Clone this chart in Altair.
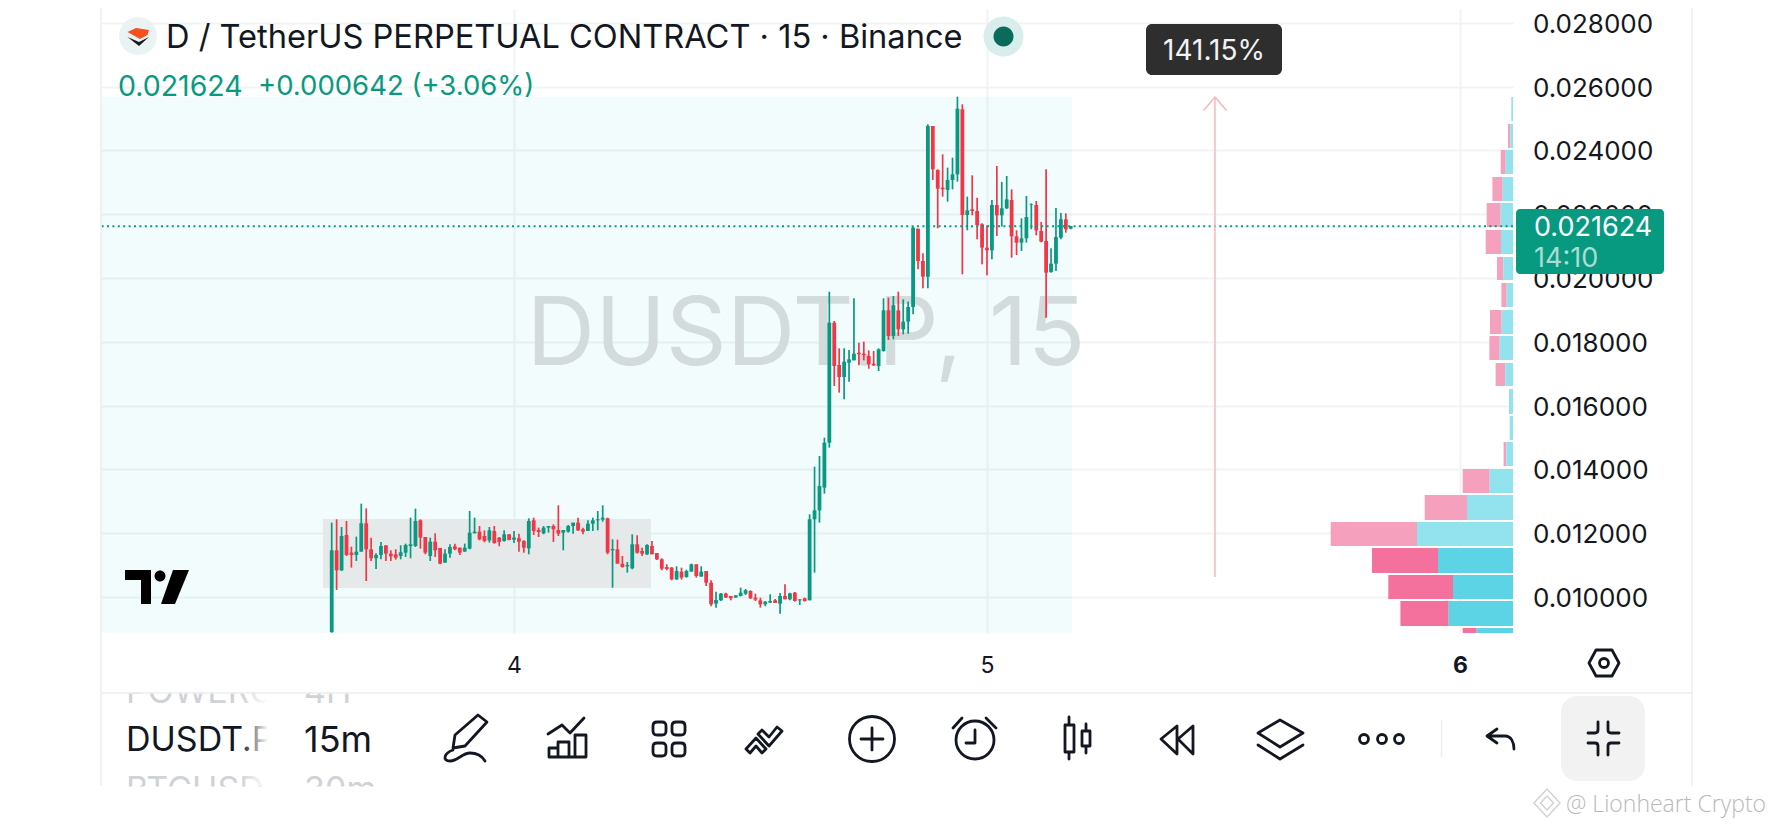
import altair as alt
import pandas as pd

FONT = "Inter"
INK = "#131722"
UP = "#089981"
DOWN = "#F23645"

# candles, prices in millionths, one every 15 minutes
OPEN = [8900,11463,10836,11944,11390,11317,11422,12310,11495,11213,11317,11620,11359,11338,11286,11390,11599,11599,12404,11881,11286,11735,11537,11077,11359,11589,11547,11422,11516,11996,12049,11913,11777,12070,11861,11756,11965,11798,11840,11756,11526,12404,12101,11996,12174,12226,12101,12017,12049,12226,12331,12122,12070,12299,12404,12425,12467,11463,11495,11045,10962,10899,11652,11442,11338,11599,11380,11181,10941,10920,10554,10795,10627,10795,11025,10638,10815,10450,9791,9896,10105,10032,9980,10032,10105,10189,9980,9896,9771,9823,9896,9791,10032,9927,10136,9896,9958,9896,12435,12717,13428,14838,18600,17273,16897,17346,17419,17660,17628,17555,17315,17242,17712,18987,18182,18987,18391,18632,19092,21548,20534,20043,24766,23387,22833,22760,23073,23251,25289,21976,22154,22101,21684,20952,20868,22290,21966,22185,22446,21307,21109,21245,22290,22290,21475,21161,20189,20450,21266,21840,21548]
HIGH = [12331,12435,12195,12383,11578,11892,12926,12780,11861,11369,11725,11620,11463,11495,11620,11672,12487,12770,12435,11881,11861,11996,11537,11495,11652,11672,11547,11672,12697,12487,12226,12090,12195,12226,11881,12090,11965,12070,11986,11777,12467,12487,12174,12226,12226,12278,12874,12101,12258,12331,12487,12174,12404,12487,12697,12874,12487,11808,11798,11286,11098,11965,11934,11547,11652,11756,11380,11213,11025,10941,10962,10920,10857,11045,11025,10962,10815,10523,10168,10126,10136,10032,10053,10293,10251,10209,10105,9980,9875,10084,9938,10126,10398,10136,10157,9927,9980,12592,14086,14420,14995,19572,18653,17796,17796,17743,19363,17973,18005,17733,17712,17796,19363,19384,19436,19572,19332,19259,21600,21548,20774,24818,24766,23408,23878,23460,23773,25686,25445,22551,23220,22520,21715,21652,22446,23512,23011,23199,22781,21495,21872,22572,22342,22415,21757,23408,20931,22196,22039,22028,21631]
LOW = [8880,10220,10815,11286,10920,11129,11422,10502,11129,10878,11181,11129,11129,11171,11181,11254,11213,11568,11516,11338,11129,11254,11025,11077,11233,11463,11317,11422,11495,11996,11777,11714,11704,11672,11589,11735,11777,11693,11422,11390,11338,11944,11881,11965,12017,11725,11913,11463,12017,11986,12070,11965,12070,12070,12090,12362,11338,10293,11045,10920,10763,10868,11359,11286,11317,11338,11160,10836,10836,10523,10533,10544,10606,10795,10606,10638,10345,9708,9666,9875,9980,9896,9980,10021,10063,9938,9875,9666,9708,9812,9812,9478,9927,9896,9854,9750,9854,9896,10763,12331,13240,14681,16615,16406,16197,16751,17419,17263,17419,17158,17242,17085,17691,18057,18078,18182,18235,18255,18862,20273,19677,19677,23073,21558,22551,22394,22781,23021,20116,21495,21966,21213,20430,20085,20586,21318,21610,22164,20638,20722,20848,21109,21527,21339,21119,18757,20168,20220,21213,21422,21527]
CLOSE = [11463,10836,11913,11317,11317,11422,12310,11495,11213,11317,11599,11359,11275,11233,11401,11631,11652,12383,11861,11390,11735,11463,11045,11359,11568,11495,11390,11547,12017,12049,11808,11756,12090,11693,11725,11965,11787,11861,11735,11547,12383,12070,12038,12174,12226,12122,11986,12101,12226,12331,12090,12049,12299,12404,12435,12487,11390,11505,11045,10941,11004,11652,11390,11359,11631,11338,11181,10889,10878,10554,10815,10606,10815,11025,10659,10795,10450,9771,9906,10105,9980,9959,10053,10136,10209,9959,9917,9771,9854,9875,9812,10032,9927,10115,9875,9927,9875,12435,12717,13480,14838,18600,17242,16897,17378,17451,17628,17608,17587,17294,17263,17764,18987,18182,19144,18391,18632,19091,21579,20534,20043,24766,23408,22802,22781,23073,23251,25310,21976,22122,22101,21663,20952,20868,22290,21966,22185,22467,21307,21109,21245,21913,22310,21495,21140,20168,20450,21286,21840,21527,21624]

AXIS_PRICES = [0.010, 0.012, 0.014, 0.016, 0.018, 0.020, 0.022, 0.024, 0.026, 0.028]
AXIS_DAYS = [4, 5, 6]
LAST_PRICE = 0.021624

# volume profile: bin top, bin bottom (millionths), buy and sell volume
BIN_TOP = [25675,24829,24013,23167,22352,21505,20659,19844,18997,18182,17336,16521,15674,14859,14013,13198,12351,11536,10690,9875,9028]
BIN_BOT = [24923,24076,23261,22415,21600,20753,19938,19092,18245,17430,16615,15737,14922,14107,13260,12414,11599,10752,9937,9091,8871]
BUY = [1.7,2.7,7.3,10.3,12.3,12,9.7,6.3,11.3,13.3,7.7,4,3.3,6.7,23.3,46,96,75,60,64.3,36.3]
SELL = [0,2.3,5,10.3,14,15.3,6.3,5.3,11.7,10.3,9.7,0,0,2.7,27,42.3,86.3,66,64.7,48.3,14]
STRONG = [0]*17 + [1]*4

X_MIN, X_MAX = 3.1247, 6.1121
Y_MIN, Y_MAX = 0.008871, 0.028434
W, H = 1413, 624
X_S = alt.Scale(domain=[X_MIN, X_MAX], nice=False, zero=False)
Y_S = alt.Scale(domain=[Y_MIN, Y_MAX], nice=False, zero=False)
X0, Y0 = 100, 9
ONE = pd.DataFrame({"a": [0]})


def fx(v):
    return alt.value(v - X0)


def fy(v):
    return alt.value(v - Y0)


def text(s, x, y, size, color=INK, align="left", weight=400, font=FONT, **kw):
    return alt.Chart(ONE).mark_text(text=s, align=align, baseline="middle", fontSize=size,
                                    color=color, fontWeight=weight, font=font, **kw).encode(x=fx(x), y=fy(y + 3))


def box(x, x2, y, y2, color, radius=0, **kw):
    return alt.Chart(ONE).mark_rect(color=color, cornerRadius=radius, **kw).encode(
        x=fx(x), x2=fx(x2), y=fy(y), y2=fy(y2))


def line(x, x2, y, y2, color="#eeeeee", width=1.5):
    return alt.Chart(ONE).mark_rule(color=color, strokeWidth=width).encode(
        x=fx(x), x2=fx(x2), y=fy(y), y2=fy(y2))


def icon(path, x, y, color=INK, width=2.8, fill=None):
    if fill:
        m = alt.Chart(ONE).mark_point(shape=path, size=4, filled=True, fill=fill, strokeWidth=0, opacity=1)
    else:
        m = alt.Chart(ONE).mark_point(shape=path, size=4, filled=False, stroke=color, strokeWidth=width,
                                      opacity=1, strokeJoin="round", strokeCap="round")
    return m.encode(x=fx(x), y=fy(y))


def circ(r, cx=0, cy=0):
    return f"M{cx-r} {cy}A{r} {r} 0 1 0 {cx+r} {cy}A{r} {r} 0 1 0 {cx-r} {cy}Z"


def rrect(a, b, c, d, r):
    return (f"M{a+r} {c}L{b-r} {c}Q{b} {c} {b} {c+r}L{b} {d-r}Q{b} {d} {b-r} {d}"
            f"L{a+r} {d}Q{a} {d} {a} {d-r}L{a} {c+r}Q{a} {c} {a+r} {c}Z")


# ---- tables
idx = list(range(-37, 114))
candles = pd.DataFrame({
    "day": [4 + i / 96 for i in idx],
    "open": [v / 1e6 for v in OPEN], "close": [v / 1e6 for v in CLOSE],
    "high": [v / 1e6 for v in HIGH], "low": [v / 1e6 for v in LOW],
})
candles["col"] = [UP if c >= o else DOWN for o, c in zip(OPEN, CLOSE)]

k = (X_MAX - X_MIN) / W
prof = pd.DataFrame({
    "top": [v / 1e6 for v in BIN_TOP], "bot": [v / 1e6 for v in BIN_BOT],
    "right": [X_MAX] * len(BUY),
    "mid": [X_MAX - b * k for b in BUY],
    "left": [X_MAX - (b + s) * k for b, s in zip(BUY, SELL)],
    "buyc": ["#5DD4E5" if s else "#93E3EE" for s in STRONG],
    "sellc": ["#F3719C" if s else "#F5A0BC" for s in STRONG],
})

shade = pd.DataFrame({"d1": [X_MIN], "d2": [5.1797], "p1": [0.008871], "p2": [0.02568]})
range_box = pd.DataFrame({"d1": [3.5962], "d2": [4.2896], "p1": [0.010282], "p2": [0.012445]})
arrow = pd.DataFrame({"d1": [5.482], "p1": [0.010627], "p2": [0.025644]})

# ---- chart pieces
base_axes = alt.Chart(shade).mark_rect(color="#00bcd4", opacity=0.05).encode(
    x=alt.X("d1:Q", scale=X_S, title=None, axis=alt.Axis(
        values=AXIS_DAYS, format="d", domain=False, ticks=False, grid=True, gridColor="#f1f3f4", gridWidth=2,
        labelFont=FONT, labelFontSize=23, labelColor=INK, labelPadding=21, labelFlush=False,
        labelFontWeight={"condition": {"test": "datum.value === 6", "value": "bold"}, "value": "normal"})),
    x2="d2:Q",
    y=alt.Y("p1:Q", scale=Y_S, title=None, axis=alt.Axis(
        orient="right", values=AXIS_PRICES, format=".6f", domain=False, ticks=False, grid=True,
        gridColor="#f1f3f4", gridWidth=2, labelFont=FONT, labelFontSize=26, labelColor=INK,
        labelPadding=19.5, labelFlush=False, labelOffset=1.4)),
    y2="p2:Q",
)

watermark = text("DUSDT.P, 15", 806, 333, 95, color="#D3DBDD", align="center")
gray = alt.Chart(range_box).mark_rect(color="#E5E8E9", opacity=0.95).encode(
    x=alt.X("d1:Q", scale=X_S), x2="d2:Q", y=alt.Y("p1:Q", scale=Y_S), y2="p2:Q")

sell_bars = alt.Chart(prof).mark_rect().encode(
    x=alt.X("left:Q", scale=X_S), x2="mid:Q", y=alt.Y("bot:Q", scale=Y_S), y2="top:Q",
    color=alt.Color("sellc:N", scale=None))
buy_bars = alt.Chart(prof).mark_rect().encode(
    x=alt.X("mid:Q", scale=X_S), x2="right:Q", y=alt.Y("bot:Q", scale=Y_S), y2="top:Q",
    color=alt.Color("buyc:N", scale=None))

wicks = alt.Chart(candles).mark_rule(strokeWidth=1.7).encode(
    x=alt.X("day:Q", scale=X_S), y=alt.Y("low:Q", scale=Y_S), y2="high:Q",
    color=alt.Color("col:N", scale=None))
bodies = alt.Chart(candles).mark_rule(strokeWidth=3.8).encode(
    x=alt.X("day:Q", scale=X_S), y=alt.Y("open:Q", scale=Y_S), y2="close:Q",
    color=alt.Color("col:N", scale=None))

last_line = alt.Chart(pd.DataFrame({"p": [LAST_PRICE]})).mark_rule(
    color=UP, strokeWidth=2, strokeDash=[2, 3.4]).encode(y=alt.Y("p:Q", scale=Y_S))

arrow_shaft = alt.Chart(arrow).mark_rule(color="#F9B6BE", strokeWidth=1.5).encode(
    x=alt.X("d1:Q", scale=X_S), y=alt.Y("p1:Q", scale=Y_S), y2="p2:Q")
arrow_head = icon("M-11 13L0 0L11 13", 1215, 97, color="#F9B6BE", width=1.5)

layers = [
    base_axes, watermark, gray, sell_bars, buy_bars, wicks, bodies, last_line,
    arrow_shaft, arrow_head,
    # tooltip
    box(1146, 1282, 24, 75, "#2e2e2e", radius=6),
    text("141.15%", 1214, 49, 28, color="#f2f2f2", align="center"),
    # price label
    box(1516, 1664, 209, 274, UP, radius=4),
    text("0.021624", 1534, 225, 27, color="#ffffff"),
    text("14:10", 1534, 256, 27, color="#a9dcd2"),
    # legend
    icon(circ(19), 138, 36, fill="#EAF2F4"),
    icon("M-10.5 -4L-2 -8L11 -6L9.5 -1L2 3Z", 138, 36, fill="#F4511E"),
    icon("M-10.5 1L1 6L11 1L1 10Z", 138, 36, fill="#1a1a1a"),
    text("D / TetherUS PERPETUAL CONTRACT · 15 · Binance", 166, 35, 32.6),
    icon(circ(20), 1003.5, 36.5, fill="#D8EEEC"),
    icon(circ(10), 1003.5, 36.5, fill="#0B6B5A"),
    text("0.021624", 118, 84, 28.5, color=UP),
    text("+0.000642 (+3.06%)", 258, 84, 27.5, color=UP),
    # TradingView mark
    icon("M-32 -17L-6 -17L-6 17L-16 17L-16 -7L-32 -7Z", 157, 587, fill="#000000"),
    icon(circ(5.5, 3, -11), 157, 587, fill="#000000"),
    icon("M16 -17L32 -17L18 17L4 17Z", 157, 587, fill="#000000"),
    # settings hexagon
    icon("M-15 0L-8 -13L8 -13L15 0L8 13L-8 13Z", 1604, 663),
    icon(circ(4.5), 1604, 663),
    # frame and toolbar
    line(101, 101, 0, 786),
    line(1692, 1692, 0, 786),
    text("POWERC", 126, 690, 34, color="#cfd2d6"),
    text("4H", 304, 690, 34, color="#cfd2d6"),
    text("BTCUSD", 126, 788, 34, color="#cfd2d6"),
    text("30m", 304, 788, 34, color="#cfd2d6"),
    box(102, 400, 672, 692.5, "#ffffff"),
    box(102, 400, 786.5, 815, "#ffffff"),
    line(101, 1692, 693, 693),
    text("DUSDT.P", 126, 738, 34),
    text("15m", 304, 738, 36),
    alt.Chart(ONE).mark_rect(color=alt.LinearGradient(
        gradient="linear", x1=0, x2=1, y1=0, y2=0,
        stops=[alt.GradientStop(color="rgba(255,255,255,0)", offset=0),
               alt.GradientStop(color="rgba(255,255,255,1)", offset=1)])).encode(
        x=fx(240), x2=fx(268), y=fy(694), y2=fy(786)),
    box(268, 296, 694, 786, "#ffffff"),
    # pen
    icon("M-11 -3L12 -23L21 -16L-1 8L-13 10Z", 466, 738),
    icon("M-13 12C-22 15 -24 23 -16 23C-8 23 -4 15 4 15C11 15 16 18 19 23", 466, 738),
    # indicators
    icon("M-19 -4L-5 -13L3 -5L17 -20", 567, 738),
    icon("M-18 19L-18 10L-9 10L-9 19ZM-9 19L-9 4L2 4L2 19ZM8 19L8 -3L19 -3L19 19ZM-18 19L19 19", 567, 738),
    # layouts
    icon(rrect(-16, -3, -17, -4, 4), 669, 739),
    icon(rrect(3, 16, -17, -4, 4), 669, 739),
    icon(rrect(-16, -3, 4, 17, 4), 669, 739),
    icon(rrect(3, 16, 4, 17, 4), 669, 739),
    # drawing tools
    icon("M-17 9L-7 -2L3 9L-1 13L-7 6L-13 13Z", 763, 740),
    icon("M-1 -10L6 -3L14 -13L19 -9L6 6L-5 -6Z", 763, 740),
    # plus
    icon(circ(22.5), 872, 739),
    icon("M-11 0L11 0M0 -11L0 11", 872, 739),
    # alarm
    icon(circ(19), 975, 740),
    icon("M0 -10L0 3L-9 3", 975, 740),
    icon("M-22 -12L-13 -22M11 -22L21 -12", 975, 740),
    # candles
    icon("M-12 -15L-3 -15L-3 12L-12 12ZM-8 -23L-8 -15M-8 12L-8 19M5 -9L13 -9L13 6L5 6ZM9 -16L9 -9M9 6L9 13", 1077, 740),
    # rewind
    icon("M-16 -1L0 -14L0 14ZM1 -1L16 -14L16 14Z", 1177, 740),
    # layers
    icon("M0 -15L23 -2L0 12L-22 -2Z", 1280, 735),
    icon("M-22 10L0 24L23 10", 1280, 735),
    # dots
    icon(circ(4.5, -18, 0), 1382, 739),
    icon(circ(4.5, 0, 0), 1382, 739),
    icon(circ(4.5, 17, 0), 1382, 739),
    line(1441.5, 1441.5, 720, 757, color="#eeeeee", width=1.5),
    # undo
    icon("M-4 -10L-14 -3L-4 4M-14 -3L4 -3C10 -3 13 3 13 10", 1501, 739),
    # collapse
    box(1561, 1645, 696, 781, "#f2f2f2", radius=16),
    icon("M-6 -17L-6 -9Q-6 -6 -9 -6L-16 -6M4 -17L4 -9Q4 -6 7 -6L15 -6M-16 4L-9 4Q-6 4 -6 7L-6 16M15 4L7 4Q4 4 4 7L4 16", 1604, 739),
    # credit
    icon("M0 -14L13 0L0 14L-13 0ZM0 -7L6.5 0L0 7L-6.5 0Z", 1547, 803, color="#d2d2d2", width=1.5),
    text("@ Lionheart Crypto", 1566, 802, 23, color="#b9b9b9", font="Open Sans", weight=300),
]

chart = alt.layer(*layers).properties(
    width=W, height=H, autosize="none",
    padding={"left": 92, "top": 1, "right": 271, "bottom": 187},
    background="#ffffff",
).configure_view(strokeWidth=0)

chart.save("out.html", embed_options={"renderer": "svg", "actions": False})
